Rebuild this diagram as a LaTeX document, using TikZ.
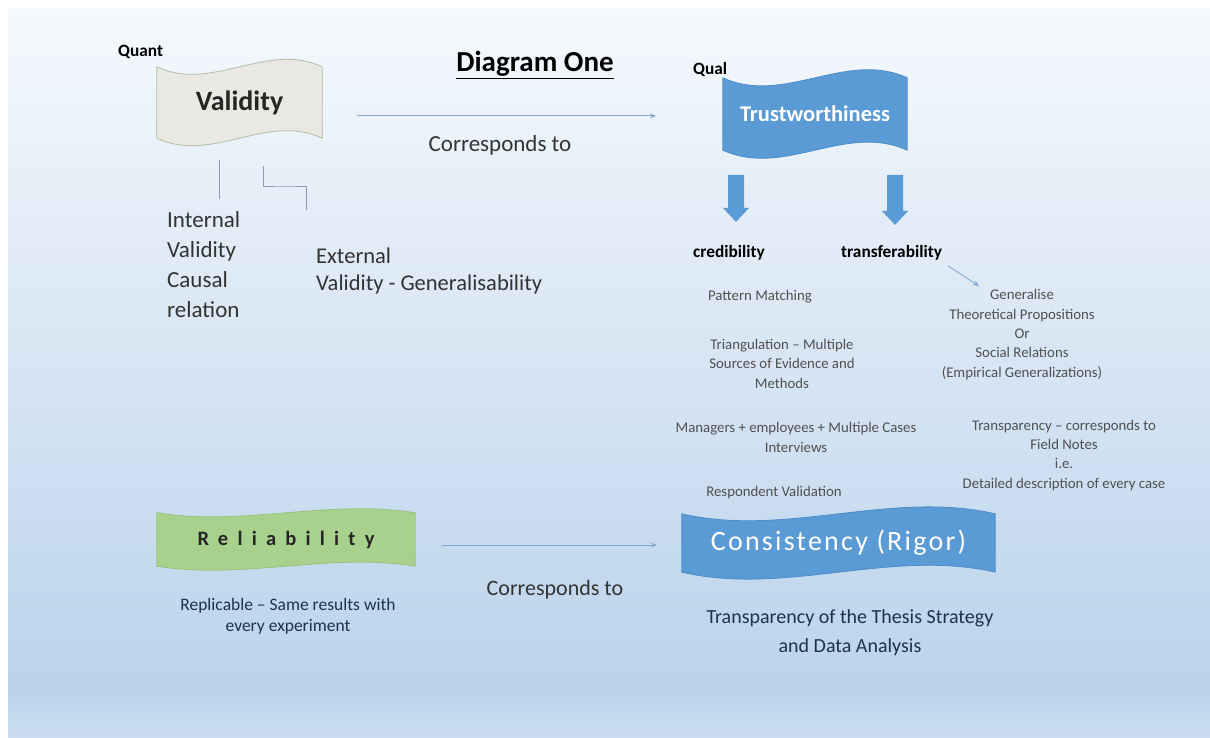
\documentclass[tikz,border=0pt]{standalone}
\usepackage{fontspec}
\setmainfont{Carlito}
\newfontfamily\widefont[LetterSpace=45]{Carlito}
\newfontfamily\midwidefont[LetterSpace=8]{Carlito}
\usetikzlibrary{calc,arrows.meta}
\pgfdeclarelayer{bg}
\pgfdeclarelayer{banner}
\pgfsetlayers{bg,banner,main}

\definecolor{pagetop}{HTML}{F5F9FD}
\definecolor{pagemid}{HTML}{BBD3EB}
\definecolor{pagelow}{HTML}{CBDEF1}
\definecolor{officeblue}{HTML}{5B9BD5}
\definecolor{blueedge}{HTML}{4F8DC9}
\definecolor{paper}{HTML}{E9E8E2}
\definecolor{paperedge}{HTML}{B3BDA6}
\definecolor{leaf}{HTML}{A9D18E}
\definecolor{leafedge}{HTML}{98C27C}
\definecolor{linkblue}{HTML}{7FA6CE}
\definecolor{stem}{HTML}{8A9BB0}
\definecolor{ink}{HTML}{333333}
\definecolor{softink}{HTML}{505050}
\definecolor{navy}{HTML}{1F3050}

% wavy banner drawn behind a named node: #1 node, #2 control offset, #3 fill, #4 edge
\newcommand\wavebanner[4]{%
  \begin{pgfonlayer}{banner}
    \path[fill=#3,draw=#4,line width=0.8pt]
      let \p1=(#1.north west), \p2=(#1.south east), \n1={(\x2-\x1)/3} in
      (\x1,\y1) .. controls ({\x1+\n1},{\y1-#2}) and ({\x1+2*\n1},{\y1+#2}) .. (\x2,\y1)
      -- (\x2,\y2) .. controls ({\x1+2*\n1},{\y2+#2}) and ({\x1+\n1},{\y2-#2}) .. (\x1,\y2)
      -- cycle;
  \end{pgfonlayer}}

\tikzset{
  bannertext/.style={inner sep=0pt, align=center},
  heading/.style={inner sep=0pt, font=\bfseries\fontsize{17.3}{20}\selectfont, text=black},
  bigtext/.style={inner sep=0pt, align=left, text=ink},
  note/.style={inner sep=0pt, align=center, text=softink,
    font=\fontsize{14.8}{19.3}\selectfont},
  navytext/.style={inner sep=0pt, align=center, text=navy},
  link/.style={draw=linkblue, line width=1pt, -{Stealth[length=6pt,width=5pt]}},
  stemline/.style={draw=stem, line width=1pt},
  blockarrow/.style={fill=officeblue, draw=none},
}

\begin{document}
\begin{tikzpicture}[x=1pt,y=-1pt]
\useasboundingbox (0,0) rectangle (1210,738);

% page background
\begin{pgfonlayer}{bg}
  \fill[white] (0,0) rectangle (1210,738);
  \shade[top color=pagetop, bottom color=pagemid] (8,9) rectangle (1210,690);
  \shade[top color=pagemid, bottom color=pagelow] (8,690) rectangle (1210,738);
\end{pgfonlayer}

% titles
\node[heading, anchor=base west] (quant) at (118,57) {Quant};
\node[inner sep=0pt, anchor=base, font=\bfseries\fontsize{29}{32}\selectfont, text=black]
  (title) at (535,72) {\underline{Diagram One}};
\node[heading, anchor=base west] (qual) at (693,75) {Qual};

% banners
\node[bannertext, minimum width=165pt, minimum height=71pt,
  font=\bfseries\fontsize{28}{30}\selectfont, text=black!85] (validity) at (239.5,102.5) {Validity};
\wavebanner{validity}{26pt}{paper}{paperedge}

\node[bannertext, minimum width=184pt, minimum height=72pt,
  font=\bfseries\fontsize{22.5}{24}\selectfont, text=white] (trust) at (815,114) {Trustworthiness};
\wavebanner{trust}{28pt}{officeblue}{blueedge}

\node[bannertext, minimum width=258pt, minimum height=53pt,
  font=\widefont\bfseries\fontsize{20.5}{24}\selectfont, text=black!85] (reliab) at (286,539.5) {Reliability};
\wavebanner{reliab}{14pt}{leaf}{leafedge}

\node[bannertext, minimum width=313pt, minimum height=58pt,
  font=\midwidefont\fontsize{28}{30}\selectfont, text=white] (consist) at (838.5,543) {Consistency (Rigor)};
\wavebanner{consist}{24pt}{officeblue}{blueedge}

% correspondence links
\coordinate (l1a) at (357,116);
\coordinate (l1b) at (656,116);
\draw[link] (l1a) -- (l1b);
\node[inner sep=0pt, anchor=base, text=ink, font=\fontsize{23}{26}\selectfont] (corr1) at (500,152) {Corresponds to};

\coordinate (l2a) at (442,545);
\coordinate (l2b) at (657,545);
\draw[link] (l2a) -- (l2b);
\node[inner sep=0pt, anchor=base, text=ink, font=\fontsize{22}{26}\selectfont] (corr2) at (555,595) {Corresponds to};

% validity branches (base anchor = last line)
\node[bigtext, anchor=base west, font=\fontsize{23}{29.7}\selectfont] (internal) at (167,317)
  {Internal\\Validity\\Causal\\relation};
\node[bigtext, anchor=base west, font=\fontsize{22.5}{27}\selectfont] (external) at (316,290)
  {External\\Validity - Generalisability};
\coordinate (s1a) at (219,160);
\coordinate (s1b) at (219,199);
\draw[stemline] (s1a) -- (s1b);
\coordinate (s2a) at (263,166);
\coordinate (s2b) at (306,210);
\draw[stemline] (s2a) |- (285,187) -| (s2b);

% block arrows under trustworthiness
\fill[blockarrow] (728,175) -- (744,175) -- (744,208) -- (749,208) -- (736,222)
  -- (723,208) -- (728,208) -- cycle;
\fill[blockarrow] (887,175) -- (903,175) -- (903,211) -- (908,211) -- (895,225)
  -- (882,211) -- (887,211) -- cycle;

\node[heading, anchor=base west] (cred) at (693,258) {credibility};
\node[heading, anchor=base west] (transf) at (841,258) {transferability};

% credibility notes
\node[note, anchor=base] (pattern) at (760,300) {Pattern Matching};
\node[note, anchor=base] (triang) at (782,388) {Triangulation -- Multiple\\Sources of Evidence and\\Methods};
\node[note, anchor=base] (managers) at (796,452) {Managers + employees + Multiple Cases\\Interviews};
\node[note, anchor=base] (respond) at (774,496) {Respondent Validation};

% transferability notes
\coordinate (t1) at (948,266);
\draw[link, line width=0.8pt] (t1) -- (979,286) coordinate (t2);
\node[note, anchor=base] (general) at (1022,377)
  {Generalise\\Theoretical Propositions\\Or\\Social Relations\\(Empirical Generalizations)};
\node[note, anchor=base] (transp) at (1064,488)
  {Transparency -- corresponds to\\Field Notes\\i.e.\\Detailed description of every case};

% notes under the lower banners
\node[navytext, anchor=base, font=\fontsize{17.5}{21}\selectfont] (replic) at (288,631)
  {Replicable -- Same results with\\every experiment};
\node[navytext, anchor=base, font=\fontsize{20}{29}\selectfont] (thesis) at (850,652)
  {Transparency of the Thesis Strategy\\and Data Analysis};
\end{tikzpicture}
\end{document}
